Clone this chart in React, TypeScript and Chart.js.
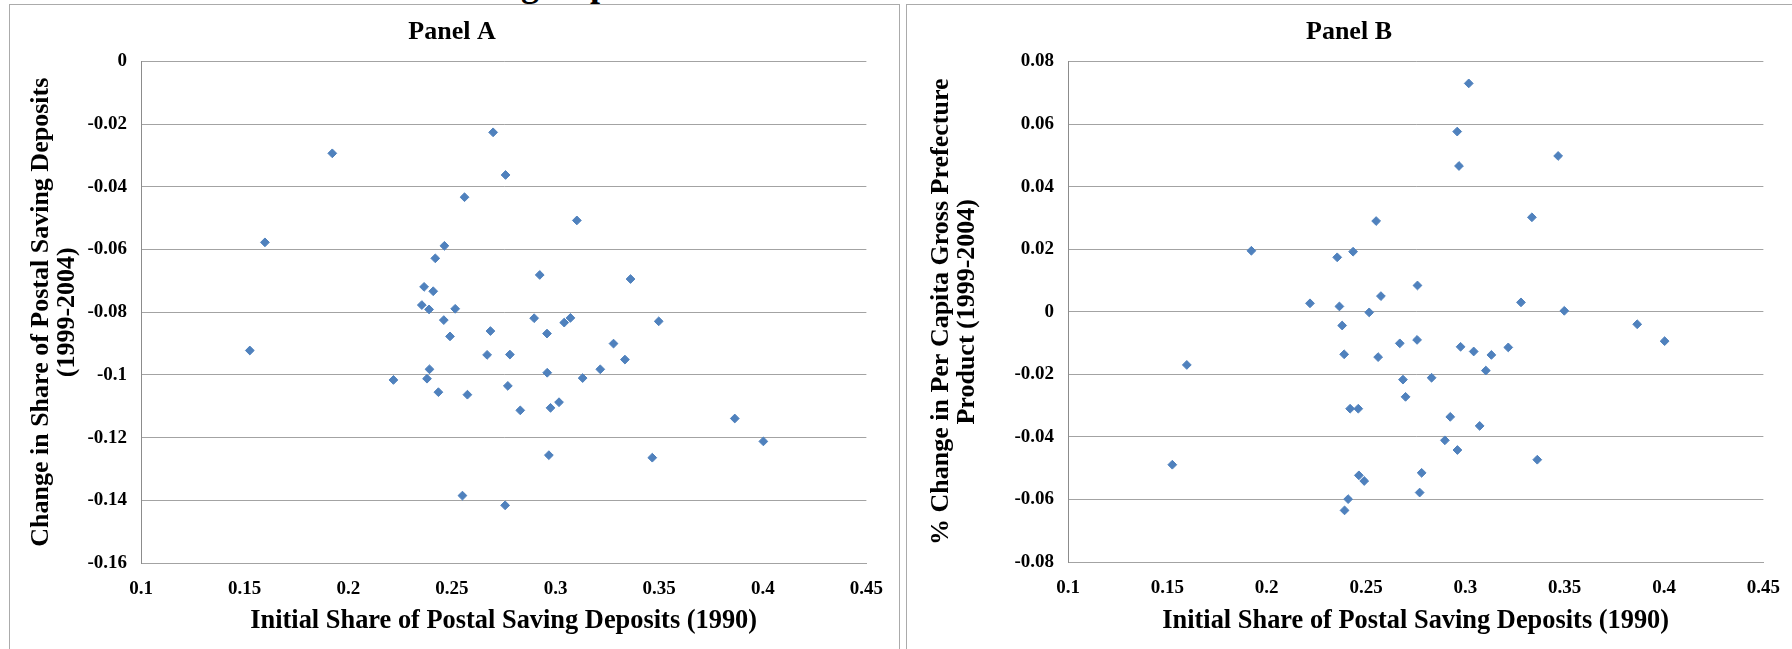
import React, { useEffect, useRef } from 'react';
import { Chart, registerables } from 'chart.js';

Chart.register(...registerables);

// Initial share of postal saving deposits (1990), one value per prefecture
const initialShare = [
  0.1525, 0.1598, 0.1923, 0.2218, 0.2355, 0.2366, 0.238, 0.239, 0.2392, 0.241,
  0.242, 0.2435, 0.2461, 0.2464, 0.2491, 0.2516, 0.2551, 0.2561, 0.2575, 0.267,
  0.2686, 0.2699, 0.2757, 0.2759, 0.277, 0.278, 0.283, 0.2897, 0.2924, 0.2959,
  0.296, 0.2968, 0.2976, 0.3017, 0.3042, 0.3072, 0.3103, 0.3131, 0.3216, 0.328,
  0.3335, 0.3362, 0.3467, 0.3498, 0.3865, 0.4003,
];

// Panel A: change in share of postal saving deposits (1999-2004)
const shareChange = [
  -0.0922, -0.0577, -0.0293, -0.1016, -0.0777, -0.0719, -0.1012, -0.0791, -0.0982, -0.0733,
  -0.0628, -0.1055, -0.0825, -0.0588, -0.0877, -0.0789, -0.1385, -0.0433, -0.1063, -0.0936,
  -0.086, -0.0226, -0.1416, -0.0362, -0.1035, -0.0935, -0.1113, -0.0819, -0.0681, -0.0868,
  -0.0993, -0.1256, -0.1105, -0.1087, -0.0833, -0.0818, -0.0507, -0.101, -0.0982, -0.09,
  -0.0951, -0.0694, -0.1264, -0.0829, -0.1139, -0.1212,
];

// Panel B: % change in per capita gross prefecture product (1999-2004)
const gppChange = [
  -0.0489, -0.017, 0.0195, 0.0027, 0.0174, 0.0017, -0.0044, -0.0136, -0.0635, -0.0599,
  -0.031, 0.0192, -0.031, -0.0523, -0.0541, -0.0002, 0.029, -0.0145, 0.005, -0.0101,
  -0.0217, -0.0272, -0.009, 0.0084, -0.0578, -0.0515, -0.0211, -0.0411, -0.0336, 0.0576,
  -0.0442, 0.0466, -0.0112, 0.073, -0.0127, -0.0365, -0.0188, -0.0138, -0.0114, 0.003,
  0.0302, -0.0473, 0.0498, 0.0003, -0.004, -0.0094,
];

// axis ranges: [min, max, step]
const xAxisRange = [0.1, 0.45, 0.05];
const yAxisRangeA = [-0.16, 0, 0.02];
const yAxisRangeB = [-0.08, 0.08, 0.02];

const xAxisTitle = 'Initial Share of Postal Saving Deposits (1990)';
const yAxisTitleA = ['Change in Share of Postal Saving Deposits', '(1999-2004)'];
const yAxisTitleB = ['% Change in Per Capita Gross Prefecture', 'Product (1999-2004)'];

const SERIF = "'Liberation Serif', 'Times New Roman', serif";
const MARKER = '#4f81bd';
const GRID = '#a3a3a3';

const fmt = (v: number | string) => String(parseFloat(Number(v).toFixed(2)));

type PanelProps = {
  left: number;
  title: string;
  yTitle: string[];
  yValues: number[];
  yRange: number[];
  leftPad: number;
  yAxisWidth: number;
  rightPad: number;
  yTitlePad: number;
  xAxisHeight: number;
};

function Panel(p: PanelProps) {
  const ref = useRef<HTMLCanvasElement | null>(null);
  useEffect(() => {
    if (!ref.current) return;
    const points = initialShare.map((x, i) => ({ x, y: p.yValues[i] }));
    const chart = new Chart(ref.current, {
      type: 'scatter',
      data: {
        datasets: [
          {
            data: points,
            pointStyle: 'rectRot',
            pointRadius: 4.4,
            borderWidth: 1,
            backgroundColor: MARKER,
            borderColor: MARKER,
          },
        ],
      },
      options: {
        animation: false,
        responsive: false,
        devicePixelRatio: 1,
        layout: { padding: { left: p.leftPad, right: p.rightPad, top: 0, bottom: 0 } },
        plugins: {
          legend: { display: false },
          tooltip: { enabled: false },
          title: {
            display: true,
            text: p.title,
            color: '#000',
            font: { family: SERIF, size: 26, weight: 'bold', lineHeight: 1.2 },
            padding: { top: 11.4, bottom: 13.9 },
          },
        },
        scales: {
          x: {
            type: 'linear',
            min: xAxisRange[0],
            max: xAxisRange[1],
            afterFit: (s: any) => {
              s.height = p.xAxisHeight;
            },
            ticks: {
              stepSize: xAxisRange[2],
              callback: (v: any) => fmt(v),
              color: '#000',
              padding: 15,
              maxRotation: 0,
              font: { family: SERIF, size: 19, weight: 'bold' },
            },
            grid: { display: false, drawTicks: false },
            border: { display: true, color: GRID, width: 1 },
            title: {
              display: true,
              text: xAxisTitle,
              color: '#000',
              font: { family: SERIF, size: 26.4, weight: 'bold', lineHeight: 1.15 },
              padding: { top: 4, bottom: 29 },
            },
          },
          y: {
            type: 'linear',
            min: p.yRange[0],
            max: p.yRange[1],
            afterFit: (s: any) => {
              s.width = p.yAxisWidth;
            },
            ticks: {
              stepSize: p.yRange[2],
              callback: (v: any) => fmt(v),
              color: '#000',
              padding: 14,
              font: { family: SERIF, size: 19, weight: 'bold' },
            },
            grid: { color: GRID, lineWidth: 1, drawTicks: false },
            border: { display: true, color: '#8c8c8c', width: 1 },
            title: {
              display: true,
              text: p.yTitle,
              color: '#000',
              font: { family: SERIF, size: 26, weight: 'bold', lineHeight: 1.0 },
              padding: { top: p.yTitlePad, bottom: 0 },
            },
          },
        },
      },
    } as any);
    return () => chart.destroy();
  }, []);
  return (
    <div
      style={{
        position: 'absolute',
        left: p.left,
        top: 4,
        width: 891,
        height: 700,
        boxSizing: 'border-box',
        border: '1px solid #ababab',
        background: '#fff',
        overflow: 'hidden',
      }}
    >
      <canvas ref={ref} width={888} height={660} style={{ display: 'block', width: 888, height: 660 }} />
    </div>
  );
}

export default function App() {
  return (
    <div
      style={{
        position: 'fixed',
        left: 0,
        top: 0,
        width: 1792,
        height: 649,
        overflow: 'hidden',
        background: '#fff',
      }}
    >
      <div
        style={{
          position: 'absolute',
          left: 332,
          top: -34,
          fontFamily: SERIF,
          fontWeight: 'bold',
          fontSize: 36,
          lineHeight: '36px',
          whiteSpace: 'nowrap',
          color: '#000',
        }}
      >
        Postal Saving Deposits
      </div>
      <Panel
        left={9}
        title="Panel A"
        yTitle={yAxisTitleA}
        yValues={shareChange}
        yRange={yAxisRangeA}
        leftPad={21}
        yAxisWidth={110}
        rightPad={25}
        yTitlePad={-3}
        xAxisHeight={102}
      />
      <Panel
        left={906}
        title="Panel B"
        yTitle={yAxisTitleB}
        yValues={gppChange}
        yRange={yAxisRangeB}
        leftPad={23}
        yAxisWidth={138}
        rightPad={27}
        yTitlePad={-2}
        xAxisHeight={103}
      />
    </div>
  );
}
